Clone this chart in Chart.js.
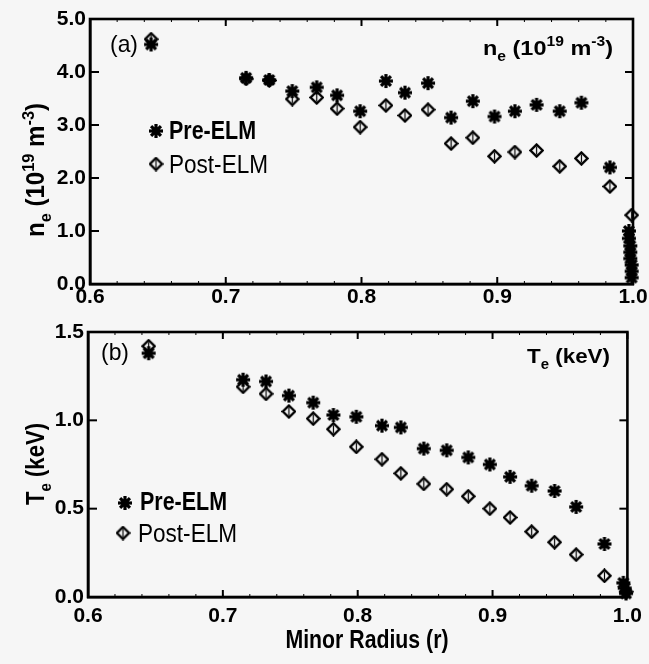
<!DOCTYPE html>
<html>
<head>
<meta charset="utf-8">
<script src="https://cdn.jsdelivr.net/npm/chart.js@4"></script>
<style>
  body { margin: 0; background: #f6f6f6; }
  #topBox { position: absolute; left: 0; top: 0; }
  #bottomBox { position: absolute; left: 0; top: 315px; }
</style>
</head>
<body>
<div id="topBox"><canvas id="neChart" width="649" height="315"></canvas></div>
<div id="bottomBox"><canvas id="teChart" width="649" height="349"></canvas></div>
<script>
// --- data ---
const radius = [0.645, 0.715, 0.732, 0.749, 0.767, 0.782, 0.799, 0.818, 0.832,
                0.849, 0.866, 0.882, 0.898, 0.913, 0.929, 0.946, 0.962, 0.983];

// (a) density, 10^19 m^-3
const nePre  = [4.52, 3.89, 3.85, 3.64, 3.71, 3.56, 3.26, 3.83, 3.61,
                3.79, 3.14, 3.45, 3.16, 3.26, 3.38, 3.26, 3.42, 2.20];
const nePost = [4.62, 3.87, 3.84, 3.49, 3.52, 3.31, 2.96, 3.37, 3.18,
                3.29, 2.65, 2.76, 2.41, 2.49, 2.52, 2.22, 2.37, 1.84];
// points piled up at the separatrix
const neEdgeRadiusPre = [0.997, 0.997, 0.998, 0.998, 0.998, 0.999, 0.999, 0.999];
const neEdgePre       = [1.00, 0.86, 0.72, 0.60, 0.48, 0.36, 0.24, 0.12];
const neEdgeRadiusPost = [0.999];
const neEdgePost       = [1.30];

// (b) temperature, keV
const tePre  = [1.38, 1.23, 1.22, 1.14, 1.10, 1.03, 1.02, 0.97, 0.96,
                0.84, 0.83, 0.79, 0.75, 0.68, 0.63, 0.60, 0.51, 0.30];
const tePost = [1.42, 1.19, 1.15, 1.05, 1.01, 0.95, 0.85, 0.78, 0.70,
                0.64, 0.61, 0.57, 0.50, 0.45, 0.37, 0.31, 0.24, 0.12];
const teEdgeRadiusPre = [0.997, 0.998, 0.999];
const teEdgePre       = [0.08, 0.05, 0.02];
const teEdgeRadiusPost = [0.999];
const teEdgePost       = [0.03];

const seriesNames = ["Pre-ELM", "Post-ELM"];

const FONT = '"Liberation Sans", Arial, sans-serif';
const BG = "#f6f6f6";

// --- marker images ---
function makeStar(size) {
  const c = document.createElement("canvas");
  c.width = c.height = size;
  const g = c.getContext("2d");
  const m = size / 2, r = size / 2 - 1;
  g.strokeStyle = "#000";
  g.lineWidth = 3.2;
  for (let k = 0; k < 4; k++) {
    const a = k * Math.PI / 4;
    g.beginPath();
    g.moveTo(m - r * Math.cos(a), m - r * Math.sin(a));
    g.lineTo(m + r * Math.cos(a), m + r * Math.sin(a));
    g.stroke();
  }
  g.fillStyle = "#000";
  g.beginPath();
  g.arc(m, m, r * 0.58, 0, 2 * Math.PI);
  g.fill();
  return c;
}

function makeDiamond(size) {
  const c = document.createElement("canvas");
  c.width = c.height = size;
  const g = c.getContext("2d");
  const m = size / 2;
  g.fillStyle = BG;
  g.strokeStyle = "#000";
  g.lineWidth = 2.4;
  g.beginPath();
  g.moveTo(m, 1.5);
  g.lineTo(size - 1.5, m);
  g.lineTo(m, size - 1.5);
  g.lineTo(1.5, m);
  g.closePath();
  g.fill();
  g.stroke();
  g.lineWidth = 1.2;
  g.beginPath();
  g.moveTo(m, 3.5);
  g.lineTo(m, size - 3.5);
  g.stroke();
  return c;
}

const starImg = makeStar(16);
const diamondImg = makeDiamond(15);

// --- text with sub/superscripts ---
function drawRich(ctx, parts, x, y, o) {
  const s = o.size, w = o.weight || "bold";
  const fontOf = k => `${w} ${k === "n" ? s : Math.round(s * 0.68)}px ${FONT}`;
  let total = 0;
  parts.forEach(([t, k]) => { ctx.font = fontOf(k); total += ctx.measureText(t).width; });
  const sx = o.width ? o.width / total : 1;
  ctx.save();
  ctx.translate(x, y);
  if (o.rotate) ctx.rotate(o.rotate);
  ctx.scale(sx, 1);
  let cx = o.align === "right" ? -total : o.align === "center" ? -total / 2 : 0;
  ctx.fillStyle = "#000";
  ctx.textAlign = "left";
  ctx.textBaseline = o.baseline || "alphabetic";
  parts.forEach(([t, k]) => {
    ctx.font = fontOf(k);
    const dy = k === "sub" ? s * 0.28 : k === "sup" ? -s * 0.42 : 0;
    ctx.fillText(t, cx, dy);
    cx += ctx.measureText(t).width;
  });
  ctx.restore();
}

function drawMarker(ctx, img, x, y) {
  ctx.drawImage(img, x - img.width / 2, y - img.height / 2);
}

// frame on all four sides with inward ticks
const framePlugin = {
  id: "frame",
  afterDraw(chart) {
    const { ctx, chartArea: a, scales: { x, y } } = chart;
    const line = (x1, y1, x2, y2) => { ctx.beginPath(); ctx.moveTo(x1, y1); ctx.lineTo(x2, y2); ctx.stroke(); };
    ctx.save();
    ctx.strokeStyle = "#000";
    ctx.lineWidth = 1;
    for (let v = 0.62; v < 0.999; v += 0.02) {
      const px = x.getPixelForValue(v);
      line(px, a.bottom, px, a.bottom - 3);
      line(px, a.top, px, a.top + 3);
    }
    ctx.lineWidth = 2;
    x.ticks.forEach(t => {
      const px = x.getPixelForValue(t.value);
      line(px, a.bottom, px, a.bottom - 7);
      line(px, a.top, px, a.top + 7);
    });
    y.ticks.forEach(t => {
      const py = y.getPixelForValue(t.value);
      line(a.left, py, a.left + 9, py);
      line(a.right, py, a.right - 8, py);
    });
    ctx.lineWidth = 2.6;
    ctx.strokeRect(a.left, a.top, a.right - a.left, a.bottom - a.top);
    ctx.restore();
  }
};

function textPlugin(draw) {
  return { id: "texts", afterDraw(chart) { chart.ctx.save(); draw(chart.ctx); chart.ctx.restore(); } };
}

function points(xs, ys) {
  return xs.map((r, i) => ({ x: r, y: ys[i] }));
}

function makeDatasets(pre, post, edgeRPre, edgePre, edgeRPost, edgePost) {
  return [
    { label: seriesNames[0], data: points(radius, pre).concat(points(edgeRPre, edgePre)),
      pointStyle: starImg, pointRadius: 7, clip: false },
    { label: seriesNames[1], data: points(radius, post).concat(points(edgeRPost, edgePost)),
      pointStyle: diamondImg, pointRadius: 7, clip: false }
  ];
}

const tickFont = { family: FONT, weight: "bold", size: 21 };

function buildConfig(datasets, yMax, yStep, layout, xPad, drawTexts) {
  return {
    type: "scatter",
    data: { datasets },
    options: {
      responsive: false,
      animation: false,
      events: [],
      layout: { padding: { left: 0, right: layout.right, top: layout.top, bottom: 0 } },
      plugins: { legend: { display: false }, tooltip: { enabled: false } },
      scales: {
        x: {
          min: 0.6, max: 1.0,
          grid: { display: false, drawTicks: false },
          border: { display: true, color: "#000", width: 2.6 },
          ticks: { stepSize: 0.1, color: "#000", font: tickFont, padding: xPad,
                   maxRotation: 0, callback: v => Number(v).toFixed(1) },
          afterFit: s => { s.height = layout.xHeight; }
        },
        y: {
          min: 0, max: yMax,
          grid: { display: false, drawTicks: false },
          border: { display: true, color: "#000", width: 2.6 },
          ticks: { stepSize: yStep, color: "#000", font: tickFont, padding: 4,
                   callback: v => Number(v).toFixed(1) },
          afterFit: s => { s.width = layout.yWidth; }
        }
      }
    },
    plugins: [framePlugin, textPlugin(drawTexts)]
  };
}

const neLabel = [["n", "n"], ["e", "sub"], [" (10", "n"], ["19", "sup"], [" m", "n"], ["-3", "sup"], [")", "n"]];
const teLabel = [["T", "n"], ["e", "sub"], [" (keV)", "n"]];

// (a) density panel
new Chart(document.getElementById("neChart"), buildConfig(
  makeDatasets(nePre, nePost, neEdgeRadiusPre, neEdgePre, neEdgeRadiusPost, neEdgePost),
  5, 1, { right: 16, top: 19, xHeight: 31, yWidth: 90 }, 1,
  ctx => {
    drawRich(ctx, [["(a)", "n"]], 110, 45, { size: 24, weight: "normal", baseline: "middle", width: 28 });
    drawRich(ctx, neLabel, 613, 55, { size: 21, align: "right", width: 130 });
    drawMarker(ctx, starImg, 156, 131);
    drawRich(ctx, [[seriesNames[0], "n"]], 169, 132, { size: 25, baseline: "middle", width: 87 });
    drawMarker(ctx, diamondImg, 156, 164);
    drawRich(ctx, [[seriesNames[1], "n"]], 169, 166, { size: 25, weight: "normal", baseline: "middle", width: 99 });
    drawRich(ctx, neLabel, 44, 170, { size: 25, align: "center", rotate: -Math.PI / 2, width: 134 });
  }
));

// (b) temperature panel
new Chart(document.getElementById("teChart"), buildConfig(
  makeDatasets(tePre, tePost, teEdgeRadiusPre, teEdgePre, teEdgeRadiusPost, teEdgePost),
  1.5, 0.5, { right: 15, top: 17, xHeight: 67, yWidth: 88 }, 7,
  ctx => {
    drawRich(ctx, [["(b)", "n"]], 101, 38, { size: 24, weight: "normal", baseline: "middle", width: 28 });
    drawRich(ctx, teLabel, 527, 48, { size: 21, width: 83 });
    drawMarker(ctx, starImg, 125, 188);
    drawRich(ctx, [[seriesNames[0], "n"]], 140, 188, { size: 25, baseline: "middle", width: 87 });
    drawMarker(ctx, diamondImg, 123, 218);
    drawRich(ctx, [[seriesNames[1], "n"]], 138, 220, { size: 25, weight: "normal", baseline: "middle", width: 99 });
    drawRich(ctx, teLabel, 44, 149, { size: 25, align: "center", rotate: -Math.PI / 2, width: 82 });
    drawRich(ctx, [["Minor Radius (r)", "n"]], 367, 326, { size: 25, align: "center", baseline: "middle", width: 163 });
  }
));
</script>
</body>
</html>
